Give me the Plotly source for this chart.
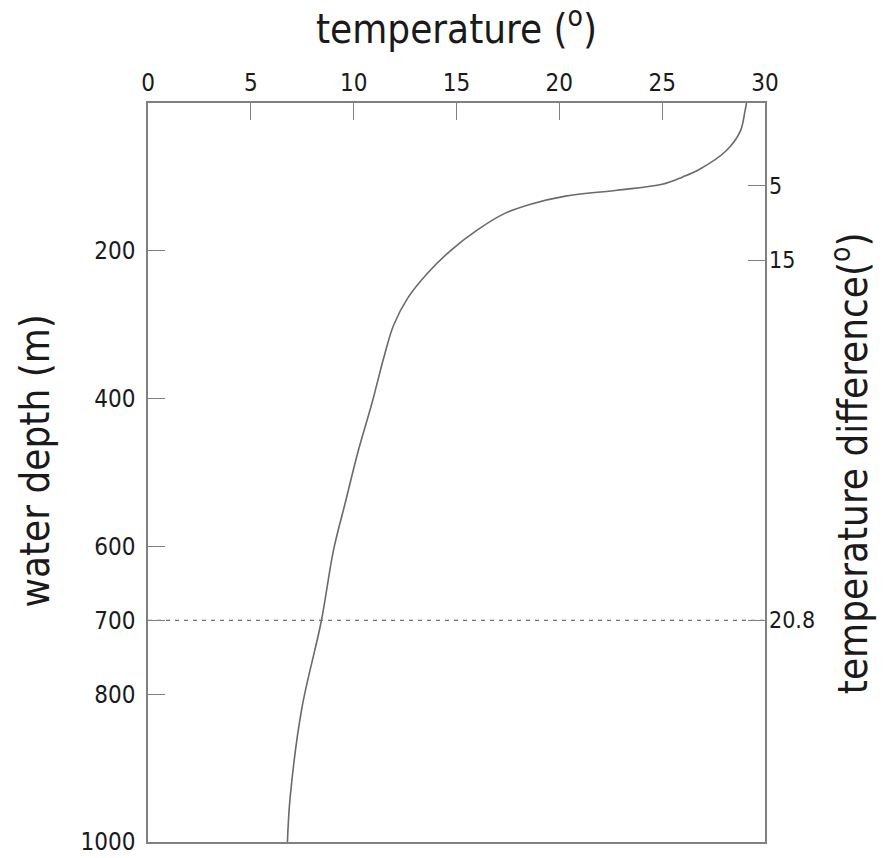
import plotly.graph_objects as go

# data
depth = [0, 12, 38, 65, 90, 100, 110, 118, 126, 137, 150, 172, 200, 230, 263, 300,
         344, 407, 470, 540, 605, 702, 819, 940, 1000]
temperature = [29.1, 29.02, 28.8, 28.1, 26.8, 26.0, 25.0, 22.8, 20.3, 18.6, 17.3, 16.0,
               14.7, 13.6, 12.65, 11.95, 11.47, 10.88, 10.23, 9.6, 9.02, 8.42, 7.48, 6.91, 6.78]

temp_ticks = [0, 5, 10, 15, 20, 25, 30]
depth_ticks = [200, 400, 600, 700, 800, 1000]
diff_depths = [112, 213, 700]
diff_labels = ["5", "15", "20.8"]
ref_depth = 700

FONT = "DejaVu Sans Condensed, DejaVu Sans, sans-serif"
LINE = "#808080"
TXT = "#1a1a1a"

fig = go.Figure()
fig.add_trace(go.Scatter(x=temperature, y=depth, mode="lines",
                         line=dict(color="#6a6a6a", width=1.6, shape="spline", smoothing=1.0),
                         showlegend=False, hoverinfo="skip"))
fig.add_trace(go.Scatter(x=[temp_ticks[0], temp_ticks[-1]], y=[ref_depth, ref_depth], mode="lines",
                         yaxis="y2",
                         line=dict(color="#707070", width=1.2, dash="4px,5px"),
                         showlegend=False, hoverinfo="skip"))

fig.update_layout(
    width=884, height=858,
    margin=dict(l=148, r=119, t=103, b=16),
    paper_bgcolor="white", plot_bgcolor="white",
    font=dict(family=FONT, color=TXT),
    xaxis=dict(range=[0, 30], side="top", tickvals=temp_ticks, ticks="inside", ticklen=17,
               tickcolor=LINE, tickwidth=1.3, showline=True, linecolor=LINE, linewidth=1.5,
               mirror=True, showgrid=False, zeroline=False, automargin=False,
               tickfont=dict(size=24, family=FONT, color=TXT), ticklabelstandoff=1),
    yaxis=dict(range=[1000, 0], tickvals=depth_ticks, ticks="inside", ticklen=17,
               tickcolor=LINE, tickwidth=1.3, showline=True, linecolor=LINE, linewidth=1.5,
               mirror=True, showgrid=False, zeroline=False, automargin=False,
               tickfont=dict(size=24, family=FONT, color=TXT), ticklabelstandoff=6),
    yaxis2=dict(range=[1000, 0], overlaying="y", side="right", tickvals=diff_depths,
                ticktext=diff_labels, ticks="inside", ticklen=17, tickcolor=LINE, tickwidth=1.3,
                showline=False, showgrid=False, zeroline=False, automargin=False,
                tickfont=dict(size=23, family=FONT, color=TXT), ticklabelstandoff=3),
    annotations=[
        dict(text="temperature (<sup>o</sup>)", x=0.5, y=1.104, xref="paper", yref="paper",
             showarrow=False, xanchor="center", yanchor="middle",
             font=dict(size=40, family=FONT, color=TXT)),
        dict(text="water depth (m)", x=-0.183, y=0.515, xref="paper", yref="paper",
             showarrow=False, xanchor="center", yanchor="middle", textangle=-90,
             font=dict(size=40, family=FONT, color=TXT)),
        dict(text="temperature difference(<sup>o</sup>)", x=1.137, y=0.512, xref="paper", yref="paper",
             showarrow=False, xanchor="center", yanchor="middle", textangle=-90,
             font=dict(size=40, family=FONT, color=TXT)),
    ],
)

fig.write_html("out.html", config={"displayModeBar": False},
               post_script="document.body.style.margin='0';document.body.style.padding='0';")
